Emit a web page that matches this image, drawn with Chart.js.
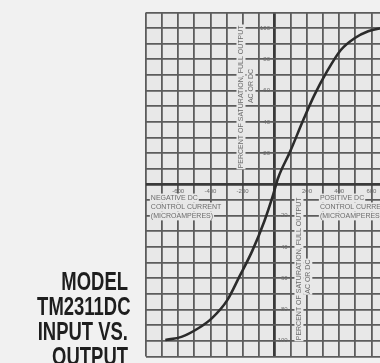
<!DOCTYPE html>
<html>
<head>
<meta charset="utf-8">
<script src="https://cdn.jsdelivr.net/npm/chart.js@4.4.1/dist/chart.umd.min.js"></script>
<style>
  html, body { margin: 0; padding: 0; width: 380px; height: 363px; overflow: hidden; background: #f1f1f1; }
  #plot { position: absolute; left: 0; top: 0; width: 420px; height: 363px; }
  #model { position: absolute; left: 0; top: 269px; width: 128px; }
  #model div {
    font: bold 26px "Liberation Sans", Arial, sans-serif;
    line-height: 25px; height: 25px; color: #1e1e1e; text-align: right; white-space: nowrap;
    transform: scaleX(0.71); transform-origin: 100% 50%;
  }
</style>
</head>
<body>
<div id="plot"><canvas id="chart" width="420" height="363"></canvas></div>
<div id="model">
  <div>MODEL</div>
  <div>TM2311DC</div>
  <div>INPUT VS.</div>
  <div>OUTPUT</div>
</div>
<script>
// Transfer curve: DC control current (µA) against output (% of saturation)
const currentUA = [-680, -580, -475, -390, -295, -220, -140, -65, -10, 20, 95, 180, 245, 320, 410, 495, 580, 665, 760];
const outputPct = [-99.5, -97.5, -92, -85.5, -74, -59, -42.5, -23.5, -6.5, 4, 21, 42, 57, 71.5, 86, 93.5, 98, 100, 101];

// Labelled ticks
const xTickLabels = [-600, -400, -200, 200, 400, 600];
const yTickLabels = [20, 40, 60, 80, 100];

// Axis captions
const outputCaption = ['PERCENT OF SATURATION, FULL OUTPUT', 'AC OR DC'];
const negativeCaption = ['NEGATIVE DC', 'CONTROL CURRENT', '(MICROAMPERES)'];
const positiveCaption = ['POSITIVE DC', 'CONTROL CURRENT', '(MICROAMPERES)'];

const GRID = '#5c5c5c';
const AXIS = '#3a3a3a';
const INK = '#6c6c6c';
const PAPER = '#e8e8e8';

const paperFill = {
  id: 'paperFill',
  beforeDraw(chart) {
    const { ctx, chartArea: a } = chart;
    ctx.save();
    ctx.fillStyle = PAPER;
    ctx.fillRect(a.left, a.top, a.right - a.left, a.bottom - a.top);
    ctx.restore();
  }
};

function boxedText(ctx, text, x, y, angle, align) {
  ctx.save();
  ctx.translate(x, y);
  ctx.rotate(angle);
  const w = ctx.measureText(text).width;
  const x0 = align === 'left' ? 0 : -w / 2;
  ctx.fillStyle = PAPER;
  ctx.fillRect(x0 - 1, -4.5, w + 2, 9);
  ctx.fillStyle = INK;
  ctx.textAlign = align;
  ctx.textBaseline = 'middle';
  ctx.fillText(text, 0, 0);
  ctx.restore();
}

const captions = {
  id: 'captions',
  beforeDatasetsDraw(chart) {
    const { ctx, scales: { x, y } } = chart;
    ctx.save();
    ctx.font = '7px "Liberation Sans", Arial, sans-serif';
    const up = -Math.PI / 2;
    // output captions, upper and lower halves
    boxedText(ctx, outputCaption[0], x.getPixelForValue(-210), y.getPixelForValue(56), up, 'center');
    boxedText(ctx, outputCaption[1], x.getPixelForValue(-148), y.getPixelForValue(63), up, 'center');
    boxedText(ctx, outputCaption[0], x.getPixelForValue(150), y.getPixelForValue(-54), up, 'center');
    boxedText(ctx, outputCaption[1], x.getPixelForValue(205), y.getPixelForValue(-59), up, 'center');
    // control current captions
    const rows = [-8.7, -14.4, -20.1];
    negativeCaption.forEach((t, i) => boxedText(ctx, t, x.getPixelForValue(-770), y.getPixelForValue(rows[i]), 0, 'left'));
    positiveCaption.forEach((t, i) => boxedText(ctx, t, x.getPixelForValue(280), y.getPixelForValue(rows[i]), 0, 'left'));
    ctx.restore();
  }
};

const gridColor = c => (c.tick && c.tick.value === 0 ? AXIS : GRID);
const gridWidth = c => (c.tick && c.tick.value === 0 ? 2.8 : 1.8);
const tickFont = { family: '"Liberation Sans", Arial, sans-serif', size: 6 };

new Chart(document.getElementById('chart'), {
  type: 'line',
  data: {
    datasets: [{
      data: currentUA.map((v, i) => ({ x: v, y: outputPct[i] })),
      borderColor: '#2b2b2b',
      borderWidth: 2.6,
      pointRadius: 0,
      fill: false,
      cubicInterpolationMode: 'monotone'
    }]
  },
  options: {
    responsive: false,
    animation: false,
    devicePixelRatio: 1,
    layout: { padding: { left: 146, top: 12.5, right: 16.4, bottom: 3 } },
    plugins: { legend: { display: false }, tooltip: { enabled: false } },
    scales: {
      x: {
        type: 'linear', min: -800, max: 800,
        position: { y: 0 },
        grid: { color: gridColor, lineWidth: gridWidth, drawTicks: false },
        border: { display: false },
        ticks: {
          stepSize: 100, autoSkip: false, maxRotation: 0, padding: 3,
          font: tickFont, color: INK,
          callback: v => (xTickLabels.includes(v) ? String(v) : '')
        }
      },
      y: {
        type: 'linear', min: -110, max: 110,
        position: { x: -30 },
        grid: { color: gridColor, lineWidth: gridWidth, drawTicks: false },
        border: { display: false },
        ticks: {
          stepSize: 10, autoSkip: false, font: tickFont, color: INK,
          callback: v => (yTickLabels.includes(v) ? String(v) : '')
        }
      },
      y2: {
        type: 'linear', min: -110, max: 110,
        position: { x: 80 },
        grid: { display: false, drawTicks: false },
        border: { display: false },
        ticks: {
          stepSize: 10, autoSkip: false, font: tickFont, color: INK,
          callback: v => (yTickLabels.includes(-v) ? String(-v) : '')
        }
      }
    }
  },
  plugins: [paperFill, captions]
});
</script>
</body>
</html>
